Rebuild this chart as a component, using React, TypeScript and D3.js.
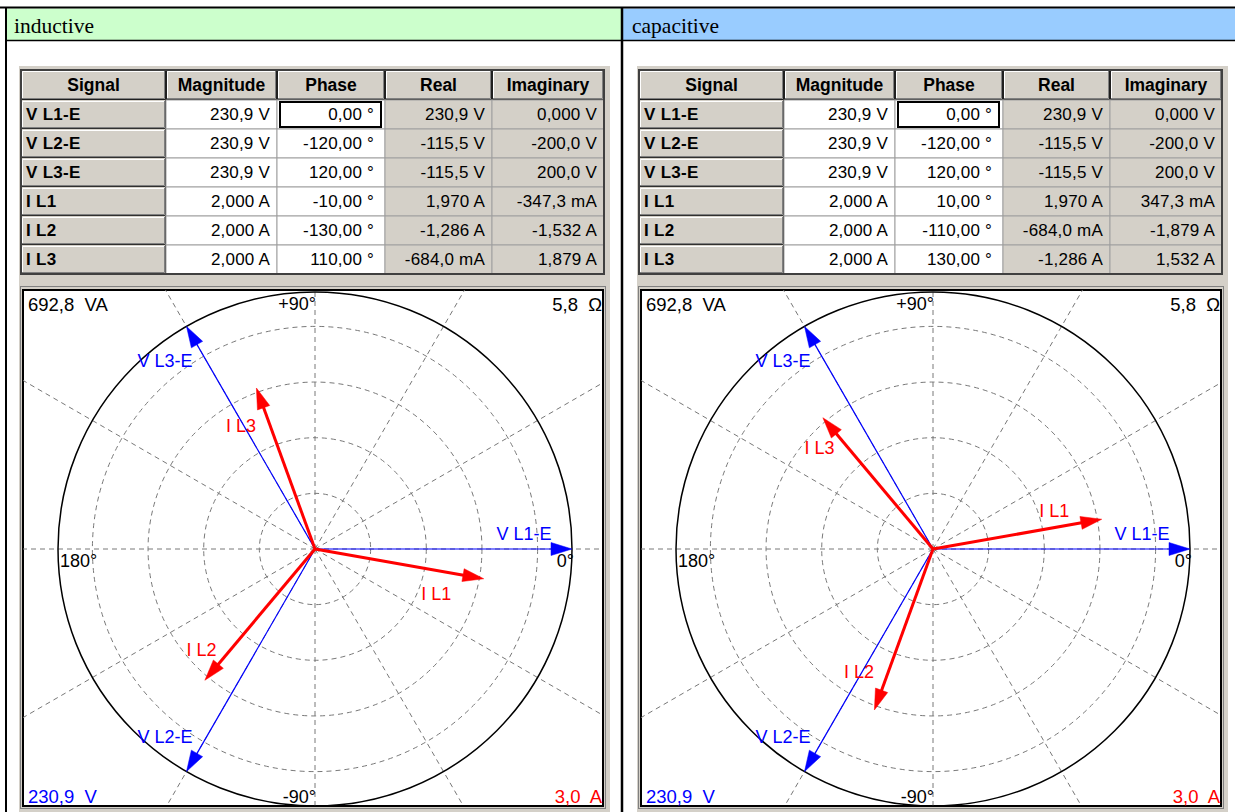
import React, { useEffect } from 'react';
import * as d3 from 'd3';

// ---------- data ----------
const panelTitles = ['inductive', 'capacitive'];
const panelColors = ['#ccffcc', '#99ccff'];
const columnHeaders = ['Signal', 'Magnitude', 'Phase', 'Real', 'Imaginary'];
const signals = ['V L1-E', 'V L2-E', 'V L3-E', 'I L1', 'I L2', 'I L3'];
const signalKinds = ['V', 'V', 'V', 'I', 'I', 'I'];
const magnitudes = [230.9, 230.9, 230.9, 2.0, 2.0, 2.0];
const magnitudeLabels = ['230,9 V', '230,9 V', '230,9 V', '2,000 A', '2,000 A', '2,000 A'];
const phasesInductive = [0, -120, 120, -10, -130, 110];
const phasesCapacitive = [0, -120, 120, 10, -110, 130];
const phaseLabelsInductive = ['0,00 °', '-120,00 °', '120,00 °', '-10,00 °', '-130,00 °', '110,00 °'];
const phaseLabelsCapacitive = ['0,00 °', '-120,00 °', '120,00 °', '10,00 °', '-110,00 °', '130,00 °'];
const realInductive = ['230,9 V', '-115,5 V', '-115,5 V', '1,970 A', '-1,286 A', '-684,0 mA'];
const imagInductive = ['0,000 V', '-200,0 V', '200,0 V', '-347,3 mA', '-1,532 A', '1,879 A'];
const realCapacitive = ['230,9 V', '-115,5 V', '-115,5 V', '1,970 A', '-684,0 mA', '-1,286 A'];
const imagCapacitive = ['0,000 V', '-200,0 V', '200,0 V', '347,3 mA', '-1,879 A', '1,532 A'];
const voltageScaleMax = 230.9;
const currentScaleMax = 3.0;
const ringValues = [50, 100, 150, 200];
const spokeAngles = d3.range(0, 360, 30);
const angleLabels = ['+90°', '-90°', '180°', '0°'];
const cornerLabels = ['692,8 VA', '5,8 Ω', '230,9 V', '3,0 A'];

const SANS = "'Liberation Sans', Arial, sans-serif";
const SERIF = "'Liberation Serif', 'Times New Roman', serif";
const GRAY = '#d4d0c8';
const BLUE = '#0000ff';
const RED = '#ff0000';

const colX = [21, 166, 277, 385, 492, 604];
const headerTop = 70;
const headerH = 30;
const rowH = 29;

function Raised({ x, y, w, h }: { x: number; y: number; w: number; h: number }) {
  return (
    <g>
      <rect x={x} y={y} width={w} height={h} fill={GRAY} />
      <path d={`M${x + 1.5},${y + h - 2}V${y + 1.5}H${x + w - 2}`} stroke="#fff" fill="none" />
      <path d={`M${x + w - 1.5},${y + 1}V${y + h - 1.5}H${x + 1}`} stroke="#808080" fill="none" />
      <path d={`M${x + w - 0.5},${y}V${y + h - 0.5}H${x}`} stroke="#303030" fill="none" />
    </g>
  );
}

function Panel({ idx, ox, phases, phaseLabels, reals, imags }: any) {
  const cx = ox + 315;
  const cy = 549;
  const R = 257;
  const rV = d3.scaleLinear().domain([0, voltageScaleMax]).range([0, R]);
  const rI = d3.scaleLinear().domain([0, currentScaleMax]).range([0, R]);
  const rad = (deg: number) => (deg * Math.PI) / 180;
  const toXY = (r: number, deg: number): [number, number] => [
    cx + r * Math.cos(rad(deg)),
    cy - r * Math.sin(rad(deg)),
  ];
  const clipId = `clip${idx}`;
  const fx0 = ox + 23;
  const fy0 = 290;
  const fw = 580;
  const fh = 516;

  const cols = colX.map((c) => c + ox);

  const vectors = signals.map((s, i) => {
    const kind = signalKinds[i];
    const r = kind === 'V' ? rV(magnitudes[i]) : rI(magnitudes[i]);
    const ang = phases[i];
    const [tx, ty] = toXY(r, ang);
    const ux = Math.cos(rad(ang));
    const uy = -Math.sin(rad(ang));
    const headLen = 21;
    const hw = 6.5;
    const bx = tx - ux * headLen;
    const by = ty - uy * headLen;
    const px = -uy;
    const py = ux;
    const head = `M${tx},${ty}L${bx + px * hw},${by + py * hw}L${bx - px * hw},${by - py * hw}Z`;
    const lx2 = tx - ux * (headLen - 2);
    const ly2 = ty - uy * (headLen - 2);
    // label placement
    const Px = tx - ux * 40;
    const Py = ty - uy * 40;
    let labX: number, labY: number, anchor: string;
    if (Math.abs(Math.cos(rad(ang))) > 0.8) {
      anchor = 'middle';
      labX = Px - 8;
      labY = Math.sin(rad(ang)) >= 0 ? Py - 9 : Py + 28;
    } else {
      anchor = 'end';
      labX = Px - 14;
      labY = Py + 6;
    }
    return { s, kind, tx, ty, head, lx2, ly2, labX, labY, anchor };
  });

  const rowsY = signals.map((_, i) => headerTop + headerH + i * rowH);

  return (
    <g>
      {/* title band */}
      <rect x={idx === 0 ? 7 : 623} y={8.5} width={idx === 0 ? 614 : 612} height={31.5} fill={panelColors[idx]} />
      <text x={ox + 14} y={33} fontFamily={SERIF} fontSize={21.5} fill="#000">
        {panelTitles[idx]}
      </text>

      {/* window background */}
      <rect x={ox + 19} y={66} width={591} height={746} fill={GRAY} />

      {/* table */}
      {columnHeaders.map((h, j) => (
        <g key={h}>
          <Raised x={cols[j]} y={headerTop} w={cols[j + 1] - cols[j]} h={headerH} />
          <rect x={cols[j] + 0.5} y={headerTop + 0.5} width={cols[j + 1] - cols[j] - 1} height={headerH - 1} fill="none" stroke="#202020" strokeWidth={1} />
          <text
            x={(cols[j] + cols[j + 1]) / 2}
            y={headerTop + 21}
            textAnchor="middle"
            fontFamily={SANS}
            fontWeight="bold"
            fontSize={17.5}
            fill="#000"
          >
            {h}
          </text>
        </g>
      ))}
      {signals.map((s, i) => {
        const y = rowsY[i];
        const vals = [magnitudeLabels[i], phaseLabels[i], reals[i], imags[i]];
        return (
          <g key={s}>
            <Raised x={cols[0]} y={y} w={cols[1] - cols[0]} h={rowH} />
            <text x={cols[0] + 5} y={y + 20} fontFamily={SANS} fontWeight="bold" fontSize={17} fill="#000" letterSpacing={0.3}>
              {s}
            </text>
            {vals.map((v, j) => {
              const c0 = cols[j + 1];
              const c1 = cols[j + 2];
              return (
                <g key={j}>
                  <rect x={c0} y={y} width={c1 - c0} height={rowH} fill={j < 2 ? '#ffffff' : GRAY} stroke="#a0a0a0" strokeWidth={1} />
                  <text x={c1 - (j === 1 ? 11 : 7)} y={y + 20} textAnchor="end" fontFamily={SANS} fontSize={17} fill="#000" letterSpacing={0.2}>
                    {v}
                  </text>
                </g>
              );
            })}
          </g>
        );
      })}
      {/* selected cell */}
      <rect x={cols[2] + 3} y={rowsY[0] + 2} width={cols[3] - cols[2] - 7} height={rowH - 4} fill="none" stroke="#000" strokeWidth={2} />
      <rect x={cols[0]} y={headerTop} width={cols[5] - cols[0]} height={headerH + rowH * 6} fill="none" stroke="#404040" strokeWidth={2} />

      {/* plot frame */}
      <rect x={ox + 20.5} y={286.5} width={585} height={522} fill="none" stroke="#808080" strokeWidth={1} />
      <rect x={fx0} y={fy0} width={fw} height={fh} fill="#fff" stroke="#000" strokeWidth={2} />
      <defs>
        <clipPath id={clipId}>
          <rect x={fx0} y={fy0} width={fw} height={fh} />
        </clipPath>
      </defs>
      <g clipPath={`url(#${clipId})`}>
        {ringValues.map((v) => (
          <circle key={v} cx={cx} cy={cy} r={rV(v)} fill="none" stroke="#787878" strokeWidth={1} strokeDasharray="5,4" />
        ))}
        {spokeAngles.map((a) => {
          const [x2, y2] = toXY(500, a);
          return <line key={a} x1={cx} y1={cy} x2={x2} y2={y2} stroke="#787878" strokeWidth={1} strokeDasharray="5,4" />;
        })}
        <circle cx={cx} cy={cy} r={R} fill="none" stroke="#000" strokeWidth={1.5} />

        {vectors
          .filter((v) => v.kind === 'V')
          .map((v) => (
            <g key={v.s}>
              <line x1={cx} y1={cy} x2={v.lx2} y2={v.ly2} stroke={BLUE} strokeWidth={1.2} />
              <path d={v.head} fill={BLUE} stroke={BLUE} strokeWidth={0.5} />
            </g>
          ))}
        {vectors
          .filter((v) => v.kind === 'I')
          .map((v) => (
            <g key={v.s}>
              <line x1={cx} y1={cy} x2={v.lx2} y2={v.ly2} stroke={RED} strokeWidth={3} />
              <path d={v.head} fill={RED} stroke={RED} strokeWidth={0.5} />
            </g>
          ))}

        {/* angle labels */}
        <text x={cx + 1} y={cy - R + 18} textAnchor="end" fontFamily={SANS} fontSize={18} fill="#000">{angleLabels[0]}</text>
        <text x={cx + 1} y={cy + R - 3} textAnchor="end" fontFamily={SANS} fontSize={18} fill="#000">{angleLabels[1]}</text>
        <text x={cx - R + 2} y={cy + 18} textAnchor="start" fontFamily={SANS} fontSize={18} fill="#000">{angleLabels[2]}</text>
        <text x={cx + R + 2} y={cy + 18} textAnchor="end" fontFamily={SANS} fontSize={18} fill="#000">{angleLabels[3]}</text>

        {/* vector labels */}
        {vectors.map((v) => (
          <text
            key={'l' + v.s}
            x={v.labX}
            y={v.labY}
            textAnchor={v.anchor}
            fontFamily={SANS}
            fontSize={18}
            fill={v.kind === 'V' ? BLUE : RED}
          >
            {v.s}
          </text>
        ))}

        {/* corner labels */}
        <text x={fx0 + 5} y={fy0 + 21} fontFamily={SANS} fontSize={18.5} wordSpacing={5} fill="#000">{cornerLabels[0]}</text>
        <text x={fx0 + fw - 1} y={fy0 + 21} textAnchor="end" fontFamily={SANS} fontSize={18.5} wordSpacing={5} fill="#000">{cornerLabels[1]}</text>
        <text x={fx0 + 5} y={fy0 + fh - 3} fontFamily={SANS} fontSize={18.5} wordSpacing={5} fill={BLUE}>{cornerLabels[2]}</text>
        <text x={fx0 + fw - 1} y={fy0 + fh - 3} textAnchor="end" fontFamily={SANS} fontSize={18.5} wordSpacing={5} fill={RED}>{cornerLabels[3]}</text>
      </g>
    </g>
  );
}

export default function App() {
  useEffect(() => {
    document.body.style.margin = '0';
    document.body.style.overflow = 'hidden';
  }, []);
  return (
    <svg
      width={1235}
      height={812}
      viewBox="0 0 1235 812"
      style={{ position: 'absolute', left: 0, top: 0, background: '#fff' }}
    >
      <rect x={0} y={0} width={1235} height={812} fill="#fff" />
      <Panel idx={0} ox={0} phases={phasesInductive} phaseLabels={phaseLabelsInductive} reals={realInductive} imags={imagInductive} />
      <Panel idx={1} ox={618} phases={phasesCapacitive} phaseLabels={phaseLabelsCapacitive} reals={realCapacitive} imags={imagCapacitive} />
      {/* outer table borders */}
      <line x1={0} y1={7.5} x2={1235} y2={7.5} stroke="#000" strokeWidth={2} />
      <line x1={6} y1={7} x2={6} y2={812} stroke="#000" strokeWidth={2} />
      <line x1={622} y1={7} x2={622} y2={812} stroke="#000" strokeWidth={2.5} />
      <line x1={6} y1={40.5} x2={1235} y2={40.5} stroke="#000" strokeWidth={1.5} />
    </svg>
  );
}
